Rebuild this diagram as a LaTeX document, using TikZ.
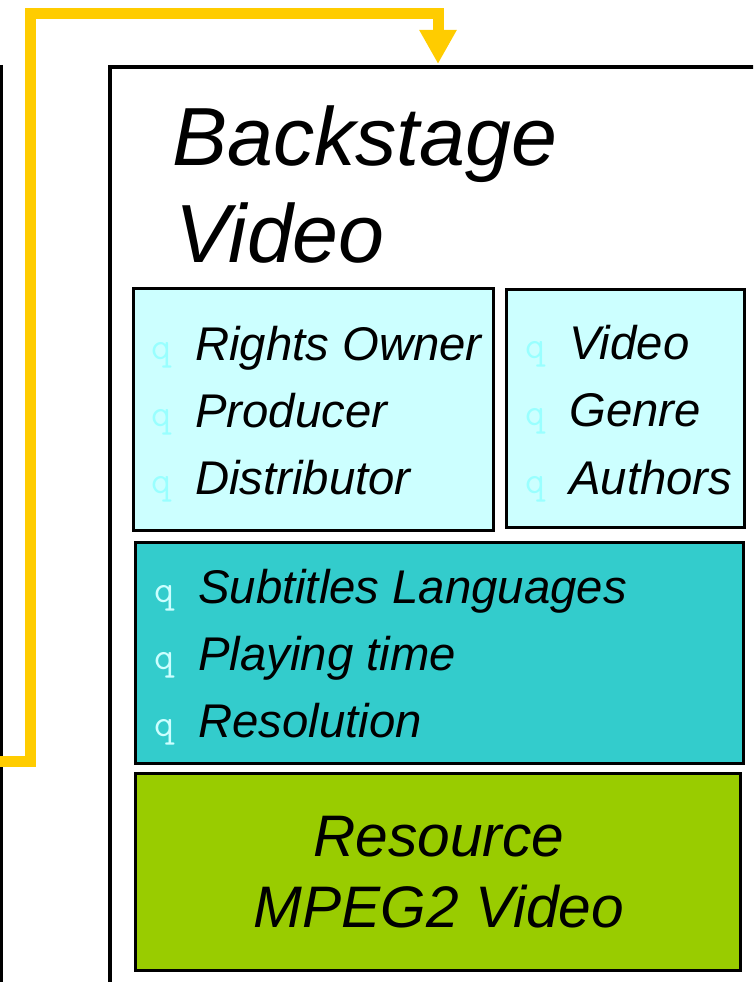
\documentclass[tikz,border=0pt]{standalone}
\usepackage{fontspec}
\setmainfont{Liberation Sans}
\usetikzlibrary{arrows.meta}
\definecolor{paleaqua}{HTML}{CCFFFF}
\definecolor{tealbox}{HTML}{33CCCC}
\definecolor{limebox}{HTML}{99CC00}
\definecolor{feedyellow}{HTML}{FFCC00}
\definecolor{bulletlight}{HTML}{99FFFF}
\definecolor{bulletpale}{HTML}{CCFFFF}
\tikzset{
	frame/.style={draw=black, line width=4pt, anchor=north west, inner sep=0pt, outer sep=0pt},
	box/.style={draw=black, line width=3pt, anchor=north west, inner sep=0pt, outer sep=0pt},
	item/.style={font=\fontsize{47.3}{47.3}\selectfont\itshape, inner sep=0pt, anchor=base west},
	bull/.style={font=\fontsize{39}{39}\selectfont\ttfamily, inner sep=0pt, anchor=base west},
	feed/.style={draw=feedyellow, line width=11pt, -{Triangle[width=35pt,length=34pt]}}
}

\begin{document}
\begin{tikzpicture}[x=1pt, y=-1pt]
			%%%%% START %%%%%
			
			\useasboundingbox (0, 0) rectangle (753, 982);
			\clip (0, 0) rectangle (753, 982);
			
			\draw[line width=3pt] (1.5, 65) -- (1.5, 990);
			
			\node[frame, minimum width=720pt, minimum height=1000pt] (backstage) at (110, 67) {};
			
			\node[font=\fontsize{82.5}{82.5}\selectfont\itshape, inner sep=0pt, anchor=base west] (title1) at (172, 165) {Backstage};
			\node[font=\fontsize{82.5}{82.5}\selectfont\itshape, inner sep=0pt, anchor=base west] (title2) at (175, 262) {Video};
			
			\node[box, fill=paleaqua, minimum width=360pt, minimum height=241.5pt] (rights) at (133.5, 288.5) {};
			\node[box, fill=paleaqua, minimum width=238pt, minimum height=238.5pt] (work) at (506.5, 289) {};
			\node[box, fill=tealbox, minimum width=608pt, minimum height=220.5pt] (tech) at (135, 542.5) {};
			\node[box, fill=limebox, minimum width=605pt, minimum height=197pt] (resource) at (135, 773) {};
			
			\foreach \t [count=\i] in {Rights Owner, Producer, Distributor} {
				\node[bull, text=bulletlight] (rb\i) at (151, {359+67*(\i-1)}) {q};
				\node[item] (ri\i) at (195, {360+67*(\i-1)}) {\t};
			}
			
			\foreach \t [count=\i] in {Video, Genre, Authors} {
				\node[bull, text=bulletlight] (wb\i) at (525, {358+67.5*(\i-1)}) {q};
				\node[item] (wi\i) at (569, {359+67.5*(\i-1)}) {\t};
			}
			
			\foreach \t [count=\i] in {Subtitles Languages, Playing time, Resolution} {
				\node[bull, text=bulletpale] (tb\i) at (154, {602+67*(\i-1)}) {q};
				\node[item] (ti\i) at (198, {603+67*(\i-1)}) {\t};
			}
			
			\node[font=\fontsize{58.6}{58.6}\selectfont\itshape, inner sep=0pt, anchor=base] (res1) at (439, 856) {Resource};
			\node[font=\fontsize{58.6}{58.6}\selectfont\itshape, inner sep=0pt, anchor=base] (res2) at (439, 927) {MPEG2 Video};
			
			\coordinate (feedin) at (0, 761);
			\coordinate (feedtop) at (438, 64);
			\draw[feed] (feedin) -| (30.5, 14) -| (feedtop);
			
			%%%%% END %%%%%
		\end{tikzpicture}
\end{document}
